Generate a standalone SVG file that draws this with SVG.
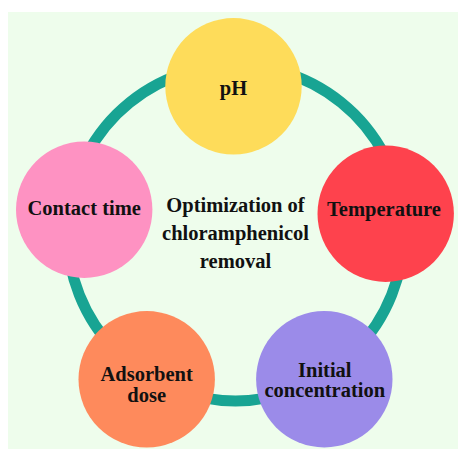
<svg xmlns="http://www.w3.org/2000/svg" width="458" height="449" viewBox="0 0 458 449">
  <style>
    .lbl { font-family: "Liberation Serif", "Times New Roman", serif; font-weight: bold; font-size: 20.5px; fill: #111; text-anchor: middle; }
    .ring { fill: none; stroke: #18a493; stroke-width: 11; }
  </style>
  <rect x="0" y="0" width="458" height="449" fill="#ffffff"/>
  <rect x="8" y="12" width="450" height="437" fill="#eefdec"/>

  <g id="connectors">
    <circle class="ring" cx="235.5" cy="233" r="168"/>
  </g>

  <g id="node-ph">
    <circle cx="233.5" cy="86.3" r="68.2" fill="#fedc5a"/>
    <text class="lbl" x="233.5" y="94.5">pH</text>
  </g>

  <g id="node-temperature">
    <circle cx="385.7" cy="213.7" r="68.2" fill="#fe424d"/>
    <text class="lbl" x="384" y="216">Temperature</text>
  </g>

  <g id="node-contact-time">
    <circle cx="84.2" cy="209.7" r="68.2" fill="#fe92c2"/>
    <text class="lbl" x="84.2" y="215">Contact time</text>
  </g>

  <g id="node-adsorbent-dose">
    <circle cx="146.7" cy="379.3" r="68.2" fill="#fe8a5c"/>
    <text class="lbl" x="146.7" y="381">Adsorbent</text>
    <text class="lbl" x="146.7" y="401.7">dose</text>
  </g>

  <g id="node-initial-concentration">
    <circle cx="324.3" cy="379.2" r="68.2" fill="#9b8be9"/>
    <text class="lbl" x="324.8" y="376.7">Initial</text>
    <text class="lbl" x="324.8" y="397.4">concentration</text>
  </g>

  <g id="center-title">
    <text class="lbl" x="235.5" y="211.7">Optimization of</text>
    <text class="lbl" x="235.5" y="240.2">chloramphenicol</text>
    <text class="lbl" x="235.5" y="268.4">removal</text>
  </g>
</svg>
